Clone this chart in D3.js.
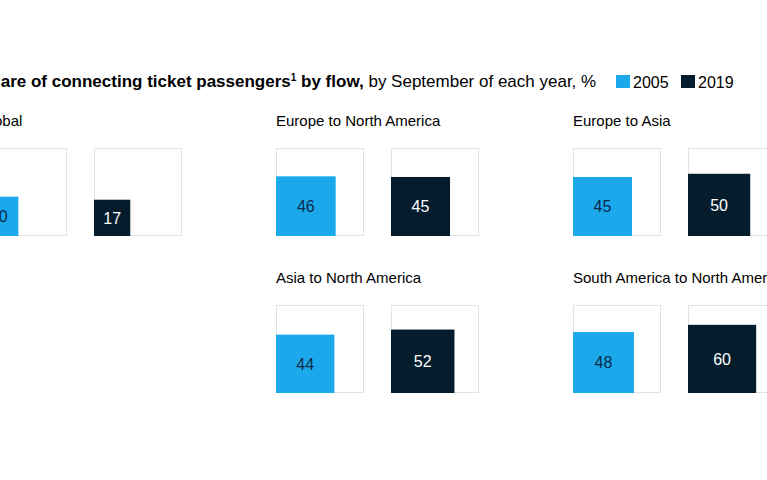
<!DOCTYPE html>
<html>
<head>
<meta charset="utf-8">
<script src="https://cdn.jsdelivr.net/npm/d3@7"></script>
<style>
  html, body { margin: 0; padding: 0; background: #fff; }
  svg { display: block; font-family: "Liberation Sans", Arial, sans-serif; }
</style>
</head>
<body>
<svg id="chart" width="767" height="480"></svg>
<script>
// ---- data ----
const flows = ["Global", "Europe to North America", "Europe to Asia", "Asia to North America", "South America to North America"];
const values2005 = [20, 46, 45, 44, 48];
const values2019 = [17, 45, 50, 52, 60];
const years = ["2005", "2019"];
const panelCol = [0, 1, 2, 1, 2];
const panelRow = [0, 0, 0, 1, 1];

// ---- layout ----
const colors = { "2005": "#1CA9EC", "2019": "#051C2C" };
const labelColors = { "2005": "#0B2A4A", "2019": "#ffffff" };
const S = 88;                 // full square side (100%)
const originX = -21;
const colStep = 297;
const rowStep = 157;
const pairGap = 115;
const boxTop0 = 148;

const svg = d3.select("#chart");
const g = svg.append("g").attr("transform", `translate(${originX},0)`);

const side = d3.scaleSqrt().domain([0, 100]).range([0, S]);
const colX = d3.scaleLinear().domain([0, 1]).range([0, colStep]);
const rowY = d3.scaleLinear().domain([0, 1]).range([boxTop0, boxTop0 + rowStep]);
const yearX = d3.scaleOrdinal().domain(years).range([0, pairGap]);

// title
const title = g.append("text").attr("x", 0).attr("y", 87)
  .attr("font-size", 17).attr("fill", "#000");
title.append("tspan").attr("font-weight", 700).text("Share of connecting ticket passengers");
title.append("tspan").attr("font-weight", 700).attr("font-size", 10).attr("dy", -6).text("1");
title.append("tspan").attr("font-weight", 700).attr("dy", 6).text(" by flow,");
title.append("tspan").attr("font-weight", 400).text(" by September of each year, %");

// legend
const legend = svg.append("g").attr("transform", "translate(616,75)");
years.forEach((y, i) => {
  const lg = legend.append("g").attr("transform", `translate(${i * 65},0)`);
  lg.append("rect").attr("width", 14).attr("height", 13).attr("fill", colors[y]);
  lg.append("text").attr("x", 17).attr("y", 12.5).attr("font-size", 16).attr("fill", "#000").text(y);
});

// panels
const data = flows.map((f, i) => ({
  flow: f, col: panelCol[i], row: panelRow[i],
  vals: [{ year: "2005", v: values2005[i] }, { year: "2019", v: values2019[i] }]
}));

const panels = g.selectAll("g.panel").data(data).join("g")
  .attr("class", "panel")
  .attr("transform", d => `translate(${colX(d.col)},${rowY(d.row)})`);

panels.append("text").attr("x", 0).attr("y", -22)
  .attr("font-size", 15).attr("fill", "#000").text(d => d.flow);

const cells = panels.selectAll("g.cell").data(d => d.vals).join("g")
  .attr("class", "cell")
  .attr("transform", d => `translate(${yearX(d.year)},0)`);

cells.append("rect").attr("x", 0.5).attr("y", 0.5).attr("width", S - 1).attr("height", S - 1)
  .attr("fill", "#fff").attr("stroke", "#e3e3e3").attr("stroke-width", 1);

cells.append("rect")
  .attr("x", 0).attr("y", d => S - side(d.v))
  .attr("width", d => side(d.v)).attr("height", d => side(d.v))
  .attr("fill", d => colors[d.year]);

cells.append("text")
  .attr("x", d => side(d.v) / 2)
  .attr("y", d => S - side(d.v) / 2)
  .attr("dy", "0.36em")
  .attr("text-anchor", "middle")
  .attr("font-size", 16)
  .attr("fill", d => labelColors[d.year])
  .text(d => d.v);
</script>
</body>
</html>
